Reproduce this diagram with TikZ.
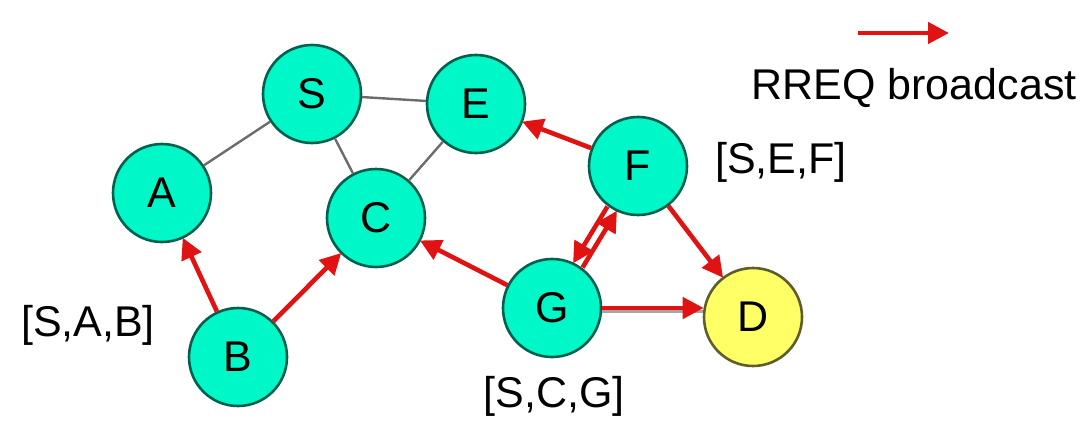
\documentclass[tikz,border=0pt]{standalone}
\usepackage{fontspec}
\setmainfont{Liberation Sans}
\usetikzlibrary{arrows.meta}

\definecolor{peerfill}{HTML}{00F8C8}
\definecolor{peerline}{HTML}{00604E}
\definecolor{destfill}{HTML}{FFFF66}
\definecolor{destline}{HTML}{5E5E2A}
\definecolor{rreqred}{HTML}{E01212}

\begin{document}
\begin{tikzpicture}[x=1pt, y=-1pt,
    peer/.style={circle, draw=peerline, line width=2.6pt, fill=peerfill, minimum size=98pt, inner sep=0pt, font=\fontsize{43}{50}\selectfont},
    dest/.style={peer, draw=destline, fill=destfill},
    link/.style={draw=gray!85!black, line width=2.4pt},
    rreq/.style={draw=rreqred, line width=4.6pt, -{Triangle[length=21pt, width=21pt]}, shorten >=-1pt},
    path label/.style={font=\fontsize{43}{50}\selectfont}]

    % fix the window to the size of the reference
    \useasboundingbox (0,0) rectangle (1091,420);

    % the nodes of the network
    \node[peer] (S) at (312,94) {S};
    \node[peer] (E) at (476,104) {E};
    \node[peer] (A) at (162,193) {A};
    \node[peer] (C) at (376,218) {C};
    \node[peer] (F) at (638,166) {F};
    \node[peer] (G) at (552,308) {G};
    \node[peer] (B) at (238,357) {B};
    \node[dest] (D) at (753,317) {D};

    % physical links, thin and gray
    \draw[link] (S) -- (A);
    \draw[link] (S) -- (E);
    \draw[link] (S) -- (C);
    \draw[link] (E) -- (C);
    \draw[link, draw=gray!70, line width=3.4pt, transform canvas={yshift=-3.2pt}] (G.east) -- (G.east -| D.west);

    % the route request flooding
    \draw[rreq] (B) -- (A);
    \draw[rreq] (B) -- (C);
    \draw[rreq] (G) -- (C);
    \draw[rreq] (F) -- (E);
    \draw[rreq] (F) -- (D);
    \draw[rreq] (G.east) -- (G.east -| D.west);
    \draw[rreq, transform canvas={shift={(-4.5pt,2.5pt)}}] (F) -- (G);
    \draw[rreq, transform canvas={shift={(4.5pt,-2.5pt)}}] (G) -- (F);

    % the recorded routes
    \node[path label] (labSEF) at (781,162) {[S,E,F]};
    \node[path label] (labSAB) at (88,325) {[S,A,B]};
    \node[path label] (labSCG) at (554,396) {[S,C,G]};

    % legend
    \coordinate (legstart) at (858,33);
    \coordinate (legend) at (948,33);
    \draw[rreq] (legstart) -- (legend);
    \node[path label] (legtext) at (914,88) {RREQ broadcast};

\end{tikzpicture}
\end{document}
